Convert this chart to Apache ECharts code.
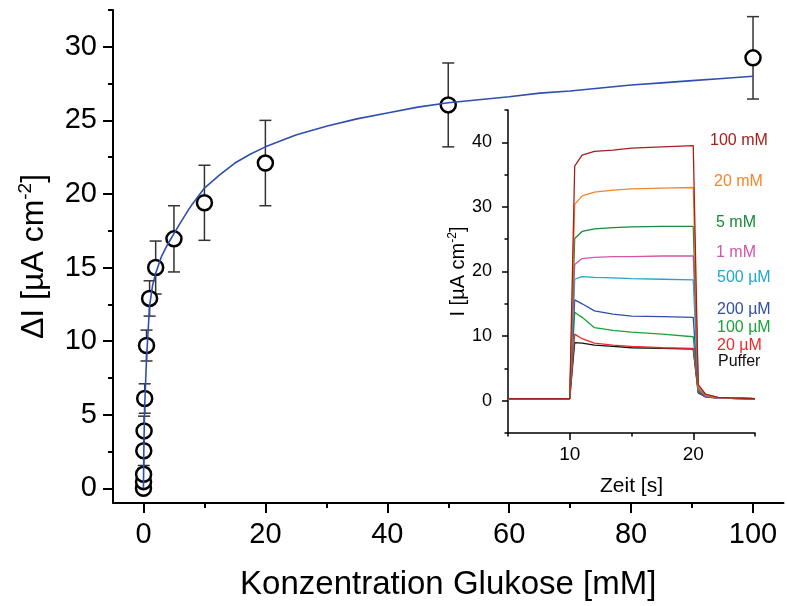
<!DOCTYPE html>
<html><head><meta charset="utf-8">
<script src="https://cdn.jsdelivr.net/npm/echarts@6/dist/echarts.min.js"></script>
<style>html,body{margin:0;padding:0;background:#fff}#c{width:787px;height:606px}</style>
</head><body><div id="c"></div>
<script>
// ---- main plot data ----
const conc = [0, 0.01, 0.02, 0.05, 0.1, 0.2, 0.5, 1, 2, 5, 10, 20, 50, 100];
const deltaI = [0, 0.45, 0.95, 2.55, 3.9, 6.1, 9.7, 12.9, 15.0, 16.95, 19.4, 22.1, 26.05, 29.25];
const deltaIErr = [0.2, 0.3, 0.4, 1.0, 1.0, 1.0, 1.05, 1.2, 1.8, 2.25, 2.55, 2.9, 2.85, 2.8];
const fitConc = [0, 0.05, 0.1, 0.2, 0.5, 1, 1.5, 2, 2.5, 3, 4, 5, 6, 7.5, 8, 10, 12.5, 15, 17.5, 20, 25, 30, 35, 40, 45, 50, 55, 60, 65, 70, 75, 80, 85, 90, 95, 100];
const fitI = [0, 2.2, 3.6, 5.6, 8.8, 12.4, 13.8, 14.6, 15.2, 15.8, 16.6, 17.3, 18.0, 19.0, 19.3, 20.4, 21.3, 22.1, 22.7, 23.2, 24.0, 24.6, 25.1, 25.5, 25.9, 26.2, 26.4, 26.6, 26.85, 27.0, 27.2, 27.4, 27.55, 27.7, 27.85, 28.0];
const mainXTicks = [0, 20, 40, 60, 80, 100];
const mainXMinor = [10, 30, 50, 70, 90];
const mainYTicks = [0, 5, 10, 15, 20, 25, 30];
const mainYMinor = [2.5, 7.5, 12.5, 17.5, 22.5, 27.5, 32.5];

// ---- inset data ----
const time = [5, 10, 10.4, 11, 12, 13.5, 15, 17.5, 20, 20.4, 21, 22, 25];
const tracePuffer = [0.3, 0.3, 9.0, 8.9, 8.6, 8.4, 8.2, 8.1, 8.0, 1.2, 0.6, 0.4, 0.3];
const trace20uM   = [0.3, 0.3, 10.3, 9.6, 8.9, 8.6, 8.4, 8.2, 8.1, 1.3, 0.6, 0.4, 0.3];
const trace100uM  = [0.3, 0.3, 13.7, 12.9, 11.3, 10.9, 10.6, 10.3, 9.9, 1.4, 0.7, 0.4, 0.3];
const trace200uM  = [0.3, 0.3, 15.6, 15.0, 13.9, 13.4, 13.1, 13.0, 12.9, 1.5, 0.7, 0.4, 0.3];
const trace500uM  = [0.3, 0.3, 18.8, 19.2, 19.1, 19.0, 18.9, 18.8, 18.7, 1.7, 0.8, 0.4, 0.3];
const trace1mM    = [0.3, 0.3, 21.1, 22.0, 22.2, 22.3, 22.3, 22.4, 22.4, 1.8, 0.8, 0.4, 0.3];
const trace5mM    = [0.3, 0.3, 25.1, 26.2, 26.6, 26.8, 26.9, 27.0, 27.0, 2.0, 0.9, 0.5, 0.3];
const trace20mM   = [0.3, 0.3, 30.4, 31.7, 32.3, 32.6, 32.8, 32.9, 33.0, 2.2, 0.9, 0.5, 0.3];
const trace100mM  = [0.3, 0.3, 36.3, 38.0, 38.6, 38.8, 39.1, 39.3, 39.5, 2.5, 1.0, 0.5, 0.3];
const traceNames  = ['Puffer', '20 µM', '100 µM', '200 µM', '500 µM', '1 mM', '5 mM', '20 mM', '100 mM'];
const traceColors = ['#111111', '#ee2a2a', '#1ba23a', '#2f4ea8', '#1ea7cc', '#d255ab', '#168a38', '#f5862a', '#a3201c'];
const traces = [tracePuffer, trace20uM, trace100uM, trace200uM, trace500uM, trace1mM, trace5mM, trace20mM, trace100mM];
const insetXLabels = [10, 20];
const insetXMinor = [5, 15, 25];
const insetYTicks = [0, 10, 20, 30, 40];
const insetYMinor = [-5, 5, 15, 25, 35, 45];

const FONT = 'Liberation Sans';
const chart = echarts.init(document.getElementById('c'), null, {renderer: 'canvas'});

function axisBase(extra) {
  return Object.assign({
    type: 'value',
    splitLine: {show: false},
    axisLine: {show: true, onZero: false, lineStyle: {color: '#000', width: 2}},
  }, extra);
}
const hiddenLine = {show: false, onZero: false};

const mainX = axisBase({
  gridIndex: 0, position: 'bottom', min: -5, max: 105,
  axisTick: {show: true, inside: false, length: 10, lineStyle: {color: '#000', width: 2}, customValues: mainXTicks},
  axisLabel: {show: true, customValues: mainXTicks, margin: 17, color: '#000', fontSize: 29, fontFamily: FONT},
  name: 'Konzentration Glukose [mM]', nameLocation: 'middle', nameGap: 65,
  nameTextStyle: {color: '#000', fontSize: 33, fontFamily: FONT}
});
const mainXm = axisBase({
  gridIndex: 0, position: 'bottom', min: -5, max: 105,
  axisLine: hiddenLine,
  axisTick: {show: true, length: 5, lineStyle: {color: '#000', width: 2}, customValues: mainXMinor},
  axisLabel: {show: false}
});
const mainY = axisBase({
  gridIndex: 0, position: 'left', min: -1, max: 32.5,
  axisTick: {show: true, length: 10, lineStyle: {color: '#000', width: 2}, customValues: mainYTicks},
  axisLabel: {show: true, customValues: mainYTicks, margin: 16, color: '#000', fontSize: 29, fontFamily: FONT},
  name: '{a|ΔI [µA cm}{s|-2}{a|]}', nameLocation: 'middle', nameGap: 61,
  nameTextStyle: {color: '#000', fontFamily: FONT,
    rich: {a: {fontSize: 32, fontFamily: FONT, color: '#000', lineHeight: 36},
           s: {fontSize: 19, fontFamily: FONT, color: '#000', lineHeight: 19, verticalAlign: 'top'}}}
});
const mainYm = axisBase({
  gridIndex: 0, position: 'left', min: -1, max: 32.5,
  axisLine: hiddenLine,
  axisTick: {show: true, length: 5, lineStyle: {color: '#000', width: 2}, customValues: mainYMinor},
  axisLabel: {show: false}
});
const insX = axisBase({
  gridIndex: 1, position: 'bottom', min: 5, max: 25,
  axisLine: {show: true, onZero: false, lineStyle: {color: '#000', width: 1.5}},
  axisTick: {show: true, length: 7, lineStyle: {color: '#000', width: 1.5}, customValues: insetXLabels},
  axisLabel: {show: true, customValues: insetXLabels, margin: 12, color: '#000', fontSize: 19, fontFamily: FONT},
  name: 'Zeit [s]', nameLocation: 'middle', nameGap: 43,
  nameTextStyle: {color: '#000', fontSize: 21, fontFamily: FONT}
});
const insXm = axisBase({
  gridIndex: 1, position: 'bottom', min: 5, max: 25,
  axisLine: hiddenLine,
  axisTick: {show: true, length: 3.5, lineStyle: {color: '#000', width: 1.5}, customValues: insetXMinor},
  axisLabel: {show: false}
});
const insY = axisBase({
  gridIndex: 1, position: 'left', min: -5, max: 45,
  axisLine: {show: true, onZero: false, lineStyle: {color: '#000', width: 1.5}},
  axisTick: {show: true, length: 6, lineStyle: {color: '#000', width: 1.5}, customValues: insetYTicks},
  axisLabel: {show: true, customValues: insetYTicks, margin: 16, color: '#000', fontSize: 18, fontFamily: FONT},
  name: '{a|I [µA cm}{s|-2}{a|]}', nameLocation: 'middle', nameGap: 38,
  nameTextStyle: {color: '#000', fontFamily: FONT,
    rich: {a: {fontSize: 20, fontFamily: FONT, color: '#000', lineHeight: 23},
           s: {fontSize: 12, fontFamily: FONT, color: '#000', lineHeight: 12, verticalAlign: 'top'}}}
});
const insYm = axisBase({
  gridIndex: 1, position: 'left', min: -5, max: 45,
  axisLine: hiddenLine,
  axisTick: {show: true, length: 3.5, lineStyle: {color: '#000', width: 1.5}, customValues: insetYMinor},
  axisLabel: {show: false}
});

const errData = conc.map((c, i) => [c, deltaI[i] - deltaIErr[i], deltaI[i] + deltaIErr[i]]);

const series = [
  {
    type: 'custom', xAxisIndex: 0, yAxisIndex: 0, z: 2, silent: true,
    data: errData, encode: {x: 0, y: [1, 2]},
    renderItem: function (params, api) {
      const x = api.value(0);
      const p1 = api.coord([x, api.value(1)]);
      const p2 = api.coord([x, api.value(2)]);
      const w = 6;
      const st = {stroke: '#333', lineWidth: 1.5, fill: null};
      return {type: 'group', children: [
        {type: 'line', shape: {x1: p1[0], y1: p1[1], x2: p2[0], y2: p2[1]}, style: st},
        {type: 'line', shape: {x1: p1[0] - w, y1: p1[1], x2: p1[0] + w, y2: p1[1]}, style: st},
        {type: 'line', shape: {x1: p2[0] - w, y1: p2[1], x2: p2[0] + w, y2: p2[1]}, style: st}
      ]};
    }
  },
  {
    type: 'scatter', xAxisIndex: 0, yAxisIndex: 0, z: 3,
    data: conc.map((c, i) => [c, deltaI[i]]),
    symbol: 'circle', symbolSize: 15,
    itemStyle: {color: '#fff', borderColor: '#000', borderWidth: 2.5, opacity: 1}
  },
  {
    type: 'line', xAxisIndex: 0, yAxisIndex: 0, z: 4,
    data: fitConc.map((c, i) => [c, fitI[i]]),
    showSymbol: false, smooth: false,
    lineStyle: {color: '#2f4fae', width: 1.6}
  }
];
traces.forEach((tr, k) => {
  series.push({
    type: 'line', name: traceNames[k], xAxisIndex: 2, yAxisIndex: 2, z: 5 + k,
    data: time.map((t, i) => [t, tr[i]]),
    showSymbol: false, lineStyle: {color: traceColors[k], width: 1.3}
  });
});

// inset annotation labels: [left x, center y] in pixels
const labelPos = [[718, 363], [717, 347], [717, 329], [717, 311], [717, 279], [716, 254], [716, 224], [714, 183], [710, 142]];
const graphic = traceNames.map((n, k) => ({
  type: 'text', left: labelPos[k][0], top: labelPos[k][1] - 9,
  style: {text: n, fill: traceColors[k], font: '16px "' + FONT + '"'}
}));

chart.setOption({
  animation: false,
  backgroundColor: '#fff',
  grid: [
    {left: 113, top: 10, width: 670.5, height: 493},
    {left: 508, top: 110, width: 247, height: 323}
  ],
  xAxis: [mainX, mainXm, insX, insXm],
  yAxis: [mainY, mainYm, insY, insYm],
  graphic: graphic,
  series: series
});
</script></body></html>
